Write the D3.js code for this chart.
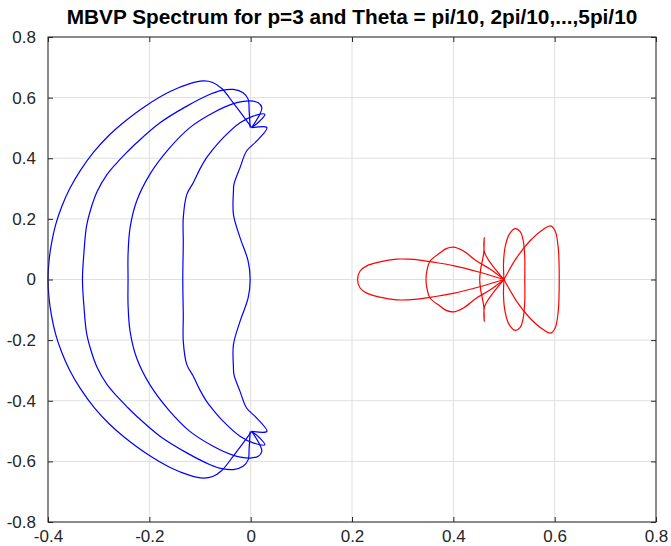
<!DOCTYPE html>
<html>
<head>
<meta charset="utf-8">
<script src="https://cdn.jsdelivr.net/npm/d3@7"></script>
<style>
  body { margin: 0; background: #fff; }
  text { font-family: 'Liberation Sans', Arial, sans-serif; }
</style>
</head>
<body>
<div id="chart"></div>
<script>
const title = 'MBVP Spectrum for p=3 and Theta = pi/10, 2pi/10,...,5pi/10'

const xTicks = [-0.4, -0.2, 0, 0.2, 0.4, 0.6, 0.8]
const xTickLabels = ['-0.4', '-0.2', '0', '0.2', '0.4', '0.6', '0.8']
const yTicks = [-0.8, -0.6, -0.4, -0.2, 0, 0.2, 0.4, 0.6, 0.8]
const yTickLabels = ['-0.8', '-0.6', '-0.4', '-0.2', '0', '0.2', '0.4', '0.6', '0.8']

// blue curves, bottom tip -> left arc -> top tip
const blue1 = [
  [0.002, -0.501], [-0.015, -0.540], [-0.034, -0.582], [-0.057, -0.630], [-0.075, -0.650],
  [-0.094, -0.655], [-0.120, -0.646], [-0.159, -0.620], [-0.205, -0.575], [-0.251, -0.518],
  [-0.280, -0.475], [-0.310, -0.420], [-0.336, -0.360], [-0.357, -0.300], [-0.373, -0.240],
  [-0.385, -0.180], [-0.393, -0.120], [-0.398, -0.060], [-0.400, 0],
  [-0.398, 0.060], [-0.393, 0.120], [-0.385, 0.180], [-0.373, 0.240], [-0.357, 0.300],
  [-0.336, 0.360], [-0.310, 0.420], [-0.280, 0.475], [-0.251, 0.518], [-0.205, 0.575],
  [-0.159, 0.620], [-0.120, 0.646], [-0.094, 0.655], [-0.075, 0.650], [-0.057, 0.630],
  [-0.034, 0.582], [-0.015, 0.540], [0.002, 0.501]
]
const blue2 = [
  [-0.001, -0.501], [-0.003, -0.556], [-0.005, -0.595], [-0.015, -0.616], [-0.034, -0.627],
  [-0.057, -0.624], [-0.080, -0.611], [-0.126, -0.572], [-0.179, -0.517], [-0.225, -0.451],
  [-0.244, -0.420], [-0.264, -0.385], [-0.284, -0.345], [-0.303, -0.290], [-0.315, -0.235],
  [-0.324, -0.175], [-0.329, -0.090], [-0.332, 0],
  [-0.329, 0.090], [-0.324, 0.175], [-0.315, 0.235], [-0.303, 0.290], [-0.284, 0.345],
  [-0.264, 0.385], [-0.244, 0.420], [-0.225, 0.451], [-0.179, 0.517], [-0.126, 0.572],
  [-0.080, 0.611], [-0.057, 0.624], [-0.034, 0.627], [-0.015, 0.616], [-0.005, 0.595],
  [-0.003, 0.556], [-0.001, 0.501]
]
const blue3 = [
  [0.002, -0.501], [0.018, -0.545], [0.022, -0.567], [0.015, -0.583], [-0.001, -0.589],
  [-0.034, -0.580], [-0.074, -0.550], [-0.120, -0.501], [-0.162, -0.430], [-0.199, -0.347],
  [-0.225, -0.259], [-0.238, -0.171], [-0.242, -0.083], [-0.242, 0],
  [-0.242, 0.083], [-0.238, 0.171], [-0.225, 0.259], [-0.199, 0.347], [-0.162, 0.430],
  [-0.120, 0.501], [-0.074, 0.550], [-0.034, 0.580], [-0.001, 0.589], [0.015, 0.583],
  [0.022, 0.567], [0.018, 0.545], [0.002, 0.501]
]
const blue4 = [
  [0.002, -0.501], [0.018, -0.523], [0.028, -0.545], [0.005, -0.539], [-0.021, -0.517],
  [-0.054, -0.468], [-0.077, -0.424], [-0.087, -0.402], [-0.100, -0.365], [-0.113, -0.320],
  [-0.126, -0.281], [-0.133, -0.204], [-0.133, -0.120], [-0.134, 0],
  [-0.133, 0.120], [-0.133, 0.204], [-0.126, 0.281], [-0.113, 0.320], [-0.100, 0.365],
  [-0.087, 0.402], [-0.077, 0.424], [-0.054, 0.468], [-0.021, 0.517], [0.005, 0.539],
  [0.028, 0.545], [0.018, 0.523], [0.002, 0.501]
]
const blue5 = [
  [0.002, -0.501], [0.032, -0.501], [0.012, -0.457], [-0.008, -0.424], [-0.021, -0.369],
  [-0.033, -0.314], [-0.034, -0.290], [-0.034, -0.215], [-0.021, -0.138], [-0.005, -0.061],
  [-0.001, 0],
  [-0.005, 0.061], [-0.021, 0.138], [-0.034, 0.215], [-0.034, 0.290], [-0.033, 0.314],
  [-0.021, 0.369], [-0.008, 0.424], [0.012, 0.457], [0.032, 0.501], [0.002, 0.501]
]

// red lobes, each a loop through (0.5, 0)
const red1 = [
  [0.500, 0], [0.452, 0.024], [0.400, 0.046], [0.357, 0.058], [0.334, 0.064], [0.311, 0.067],
  [0.288, 0.067], [0.255, 0.058], [0.229, 0.045], [0.216, 0.028], [0.211, 0],
  [0.216, -0.028], [0.229, -0.045], [0.255, -0.058], [0.288, -0.067], [0.311, -0.067],
  [0.334, -0.064], [0.357, -0.058], [0.400, -0.046], [0.452, -0.024], [0.500, 0]
]
const red2 = [
  [0.500, 0], [0.473, 0.034], [0.446, 0.061], [0.420, 0.094], [0.400, 0.107], [0.386, 0.102],
  [0.374, 0.088], [0.354, 0.061], [0.348, 0.030], [0.346, 0],
  [0.348, -0.030], [0.354, -0.061], [0.374, -0.088], [0.386, -0.102], [0.400, -0.107],
  [0.420, -0.094], [0.446, -0.061], [0.473, -0.034], [0.500, 0]
]
const red3 = [
  [0.500, 0], [0.462, 0.088], [0.461, 0.138], [0.460, 0.088], [0.454, 0.034], [0.452, 0],
  [0.454, -0.034], [0.460, -0.088], [0.461, -0.138], [0.462, -0.088], [0.500, 0]
]
const red4 = [
  [0.500, 0], [0.499, 0.050], [0.502, 0.105], [0.510, 0.148], [0.522, 0.168], [0.532, 0.158],
  [0.538, 0.127], [0.541, 0.072], [0.541, 0],
  [0.541, -0.072], [0.538, -0.127], [0.532, -0.158], [0.522, -0.168], [0.510, -0.148],
  [0.502, -0.105], [0.499, -0.050], [0.500, 0]
]
const red5 = [
  [0.500, 0], [0.525, 0.072], [0.551, 0.127], [0.578, 0.166], [0.592, 0.177], [0.601, 0.160],
  [0.607, 0.105], [0.609, 0],
  [0.607, -0.105], [0.601, -0.160], [0.592, -0.177], [0.578, -0.166], [0.551, -0.127],
  [0.525, -0.072], [0.500, 0]
]

const blueCurves = [blue1, blue2, blue3, blue4, blue5]
const redCurves = [red1, red2, red3, red4, red5]

const margin = { top: 37, right: 15, bottom: 24, left: 48 }
const width = 671 - margin.left - margin.right
const height = 546 - margin.top - margin.bottom

const svg = d3.select('#chart')
  .append('svg')
  .attr('width', width + margin.left + margin.right)
  .attr('height', height + margin.top + margin.bottom)

const g = svg.append('g')
  .attr('transform', 'translate(' + margin.left + ',' + margin.top + ')')

const x = d3.scaleLinear().domain([-0.4, 0.8]).range([0, width])
const y = d3.scaleLinear().domain([-0.8, 0.8]).range([height, 0])

// grid
g.append('g').selectAll('line')
  .data(xTicks)
  .enter().append('line')
  .attr('x1', d => x(d)).attr('x2', d => x(d))
  .attr('y1', 0).attr('y2', height)
  .attr('stroke', '#dfdfdf')
g.append('g').selectAll('line')
  .data(yTicks)
  .enter().append('line')
  .attr('y1', d => y(d)).attr('y2', d => y(d))
  .attr('x1', 0).attr('x2', width)
  .attr('stroke', '#dfdfdf')

// centripetal catmull-rom keeps the tips sharp without loops
const line = d3.line()
  .x(d => x(d[0]))
  .y(d => y(d[1]))
  .curve(d3.curveCatmullRom.alpha(0.5))

g.selectAll('.blue')
  .data(blueCurves)
  .enter().append('path')
  .attr('class', 'blue')
  .attr('d', line)
  .attr('fill', 'none')
  .attr('stroke', '#0000ff')
  .attr('stroke-width', 1.2)

g.selectAll('.red')
  .data(redCurves)
  .enter().append('path')
  .attr('class', 'red')
  .attr('d', line)
  .attr('fill', 'none')
  .attr('stroke', '#ff0000')
  .attr('stroke-width', 1.2)

// axes, ticks point inward
const xLabel = (d, i) => xTickLabels[i]
const yLabel = (d, i) => yTickLabels[i]

const styleAxis = sel => {
  sel.select('.domain').remove()
  sel.selectAll('line').attr('stroke', '#262626')
  sel.selectAll('text')
    .attr('fill', '#262626')
    .style('font-size', '17px')
}

g.append('g')
  .attr('transform', 'translate(0,' + height + ')')
  .call(d3.axisBottom(x).tickValues(xTicks).tickFormat(xLabel).tickSizeInner(-5).tickSizeOuter(0).tickPadding(8))
  .call(styleAxis)

g.append('g')
  .call(d3.axisLeft(y).tickValues(yTicks).tickFormat(yLabel).tickSizeInner(-5).tickSizeOuter(0).tickPadding(12))
  .call(styleAxis)

g.append('g')
  .call(d3.axisTop(x).tickValues(xTicks).tickFormat('').tickSizeInner(-5).tickSizeOuter(0))
  .call(styleAxis)

g.append('g')
  .attr('transform', 'translate(' + width + ',0)')
  .call(d3.axisRight(y).tickValues(yTicks).tickFormat('').tickSizeInner(-5).tickSizeOuter(0))
  .call(styleAxis)

g.append('rect')
  .attr('width', width)
  .attr('height', height)
  .attr('fill', 'none')
  .attr('stroke', '#262626')
  .attr('stroke-width', 1)

svg.append('text')
  .attr('x', margin.left + width / 2)
  .attr('y', 24)
  .attr('text-anchor', 'middle')
  .style('font-size', '20.8px')
  .style('font-weight', 'bold')
  .attr('fill', '#000')
  .text(title)
</script>
</body>
</html>
